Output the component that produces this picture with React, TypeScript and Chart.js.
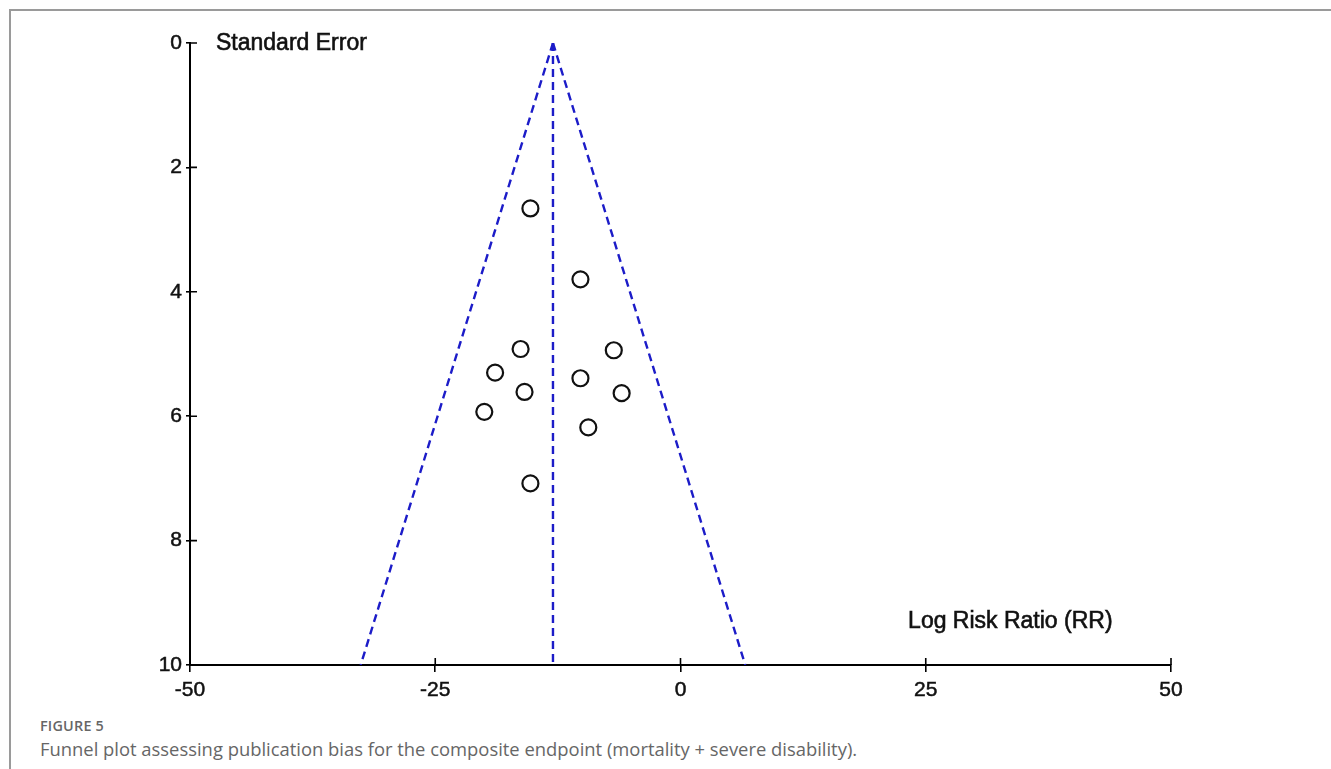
import React, { useEffect, useRef } from "react";
import { Chart, registerables } from "chart.js";

Chart.register(...registerables);

// Study estimates: effect (log RR) and its standard error
const studyEffects = [-15.3, -10.2, -16.3, -6.8, -18.9, -10.2, -15.9, -6.0, -20.0, -9.4, -15.3];
const studySE = [2.66, 3.8, 4.92, 4.94, 5.3, 5.39, 5.61, 5.63, 5.93, 6.18, 7.08];

// Funnel: pooled estimate and pseudo 95% limits
const pooledEffect = -13;
const funnelSE = [0, 10];
const zValue = 1.96;

const xTicks = [-50, -25, 0, 25, 50];
const yTicks = [0, 2, 4, 6, 8, 10];

const yTitle = "Standard Error";
const xTitle = "Log Risk Ratio (RR)";
const figLabel = "FIGURE 5";
const figCaption =
  "Funnel plot assessing publication bias for the composite endpoint (mortality + severe disability).";

const TICK_FONT = "'Liberation Sans', Arial, sans-serif";

const innerTicksAndTitles = {
  id: "innerTicksAndTitles",
  afterDraw(chart: any) {
    const ctx = chart.ctx;
    const xs = chart.scales.x;
    const ys = chart.scales.y;
    const axisY = ys.getPixelForValue(10);
    const axisX = xs.getPixelForValue(-50);
    ctx.save();
    ctx.strokeStyle = "#000";
    ctx.lineWidth = 1.6;
    ctx.beginPath();
    xTicks.forEach((v) => {
      const px = xs.getPixelForValue(v);
      ctx.moveTo(px, axisY);
      ctx.lineTo(px, axisY - 7);
    });
    yTicks.forEach((v) => {
      const py = ys.getPixelForValue(v);
      ctx.moveTo(axisX, py);
      ctx.lineTo(axisX + 7, py);
    });
    ctx.stroke();
    ctx.fillStyle = "#111";
    ctx.strokeStyle = "#111";
    ctx.lineWidth = 0.6;
    ctx.font = `23px ${TICK_FONT}`;
    ctx.textBaseline = "middle";
    ctx.textAlign = "left";
    const t1x = axisX + 26;
    const t1y = ys.getPixelForValue(0) + 1;
    ctx.fillText(yTitle, t1x, t1y);
    ctx.strokeText(yTitle, t1x, t1y);
    const t2x = xs.getPixelForValue(23.2);
    const t2y = ys.getPixelForValue(9.3);
    ctx.fillText(xTitle, t2x, t2y);
    ctx.strokeText(xTitle, t2x, t2y);
    ctx.restore();
  },
};

function FunnelChart() {
  const ref = useRef<HTMLCanvasElement | null>(null);
  useEffect(() => {
    if (!ref.current) return;
    const lower = funnelSE.map((se) => ({ x: pooledEffect - zValue * se, y: se }));
    const upper = funnelSE.map((se) => ({ x: pooledEffect + zValue * se, y: se }));
    const center = funnelSE.map((se) => ({ x: pooledEffect, y: se }));
    const points = studyEffects.map((x, i) => ({ x, y: studySE[i] }));
    const lineStyle = {
      type: "line" as const,
      borderColor: "#1c1cc8",
      borderWidth: 2.4,
      borderDash: [8, 5],
      pointRadius: 0,
      fill: false,
      showLine: true,
    };
    const chart = new Chart(ref.current, {
      type: "scatter",
      data: {
        datasets: [
          { ...lineStyle, label: "lower", data: lower },
          { ...lineStyle, label: "upper", data: upper },
          { ...lineStyle, label: "center", data: center },
          {
            type: "scatter",
            label: "studies",
            data: points,
            pointRadius: 8,
            pointBorderWidth: 2.2,
            pointBorderColor: "#111",
            pointBackgroundColor: "rgba(255,255,255,0)",
          },
        ],
      },
      options: {
        animation: false,
        responsive: false,
        maintainAspectRatio: false,
        layout: { padding: { top: 43, right: 160, left: 0, bottom: 0 } },
        plugins: { legend: { display: false }, tooltip: { enabled: false } },
        scales: {
          x: {
            type: "linear",
            min: -50,
            max: 50,
            afterBuildTicks: (s: any) => {
              s.ticks = xTicks.map((v) => ({ value: v }));
            },
            afterFit: (s: any) => {
              s.height = 45;
            },
            ticks: {
              color: "#111",
              font: { family: TICK_FONT, size: 21 },
              padding: 6,
              maxRotation: 0,
              textStrokeColor: "#111",
              textStrokeWidth: 0.5,
            },
            grid: {
              display: true,
              drawOnChartArea: false,
              drawTicks: true,
              tickLength: 7,
              color: "#000",
              lineWidth: 1.6,
            },
            border: { display: true, color: "#000", width: 2 },
          },
          y: {
            type: "linear",
            reverse: true,
            min: 0,
            max: 10,
            afterBuildTicks: (s: any) => {
              s.ticks = yTicks.map((v) => ({ value: v }));
            },
            afterFit: (s: any) => {
              s.width = 190;
            },
            ticks: {
              color: "#111",
              font: { family: TICK_FONT, size: 21 },
              padding: 4,
              textStrokeColor: "#111",
              textStrokeWidth: 0.5,
            },
            grid: {
              display: true,
              drawOnChartArea: false,
              drawTicks: true,
              tickLength: 4,
              color: "#000",
              lineWidth: 1.6,
            },
            border: { display: true, color: "#000", width: 2 },
          },
        },
      },
      plugins: [innerTicksAndTitles],
    });
    return () => chart.destroy();
  }, []);
  return <canvas ref={ref} width={1331} height={710} style={{ position: "absolute", left: 0, top: 0 }} />;
}

export default function App() {
  return (
    <div
      style={{
        position: "fixed",
        left: 0,
        top: 0,
        width: 1331,
        height: 769,
        background: "#fff",
        overflow: "hidden",
      }}
    >
      <div
        style={{
          position: "absolute",
          left: 9,
          top: 9,
          right: 0,
          bottom: 0,
          borderTop: "2px solid #9a9a9a",
          borderLeft: "2px solid #9a9a9a",
        }}
      />
      <FunnelChart />
      <div
        style={{
          position: "absolute",
          left: 40,
          top: 716,
          fontFamily: "'Open Sans', sans-serif",
          fontWeight: 600,
          fontSize: 14.4,
          color: "#666",
          letterSpacing: 0.2,
        }}
      >
        {figLabel}
      </div>
      <div
        style={{
          position: "absolute",
          left: 40,
          top: 736,
          fontFamily: "'Open Sans', sans-serif",
          fontSize: 18.4,
          color: "#666",
          whiteSpace: "nowrap",
        }}
      >
        {figCaption}
      </div>
    </div>
  );
}
